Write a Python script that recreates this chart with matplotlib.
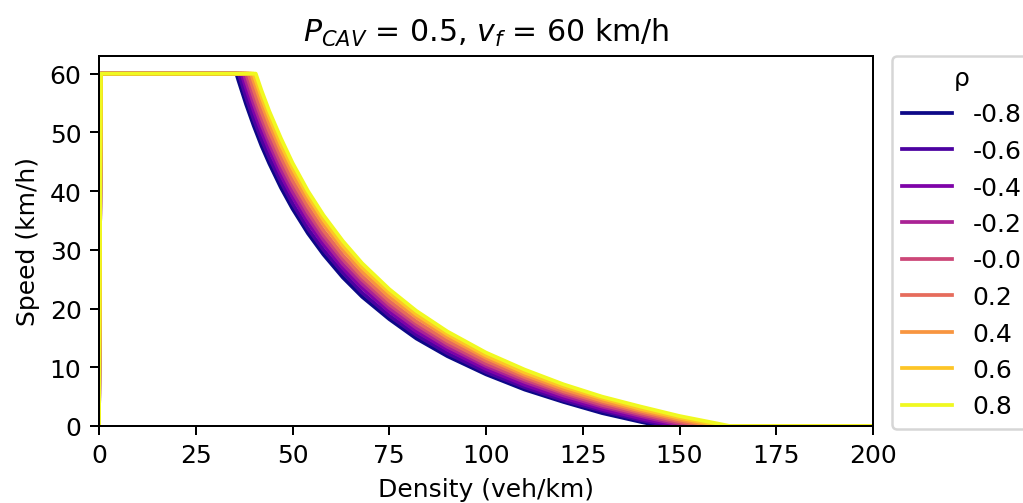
import numpy as np
import matplotlib
matplotlib.use("Agg")
import matplotlib.pyplot as plt

# legend labels for the correlation rho
rho_labels = ["-0.8", "-0.6", "-0.4", "-0.2", "-0.0", "0.2", "0.4", "0.6", "0.8"]
# critical density (end of the 60 km/h plateau) and jam density (speed reaches 0), veh/km
k_crit = [35.5, 36.1, 36.8, 37.4, 38.0, 38.6, 39.3, 39.9, 40.5]
k_jam = [145.0, 147.2, 149.5, 151.8, 154.0, 156.2, 158.5, 160.8, 163.0]
# densities at which the speeds below were read
density = [36, 38, 40, 42, 44, 47, 50, 54, 58, 63, 68, 75, 82, 90, 100, 110, 120, 130, 140, 150, 160]
speed_m08 = [58.9, 54.8, 51.1, 47.7, 44.7, 40.6, 37.0, 32.8, 29.2, 25.3, 22.0, 18.2, 14.9, 11.9, 8.8, 6.2, 4.1, 2.2, 0.7, 0.0, 0.0]
speed_m06 = [60.0, 56.0, 52.2, 48.8, 45.7, 41.6, 37.9, 33.6, 30.0, 26.1, 22.7, 18.8, 15.5, 12.4, 9.2, 6.6, 4.4, 2.6, 1.0, 0.0, 0.0]
speed_m04 = [60.0, 57.5, 53.6, 50.1, 47.0, 42.7, 39.0, 34.6, 30.9, 26.9, 23.5, 19.5, 16.1, 13.0, 9.7, 7.0, 4.8, 2.9, 1.3, 0.0, 0.0]
speed_m02 = [60.0, 58.7, 54.8, 51.3, 48.1, 43.7, 39.9, 35.5, 31.7, 27.6, 24.2, 20.1, 16.7, 13.5, 10.2, 7.5, 5.2, 3.3, 1.7, 0.2, 0.0]
speed_00 = [60.0, 60.0, 56.0, 52.4, 49.1, 44.7, 40.9, 36.4, 32.5, 28.4, 24.9, 20.7, 17.3, 14.0, 10.6, 7.9, 5.6, 3.6, 2.0, 0.5, 0.0]
speed_p02 = [60.0, 60.0, 57.2, 53.5, 50.2, 45.8, 41.8, 37.3, 33.3, 29.1, 25.5, 21.3, 17.8, 14.5, 11.1, 8.3, 5.9, 4.0, 2.3, 0.8, 0.0]
speed_p04 = [60.0, 60.0, 58.6, 54.9, 51.5, 46.9, 42.9, 38.3, 34.3, 30.0, 26.3, 22.0, 18.5, 15.1, 11.6, 8.7, 6.3, 4.3, 2.6, 1.1, 0.0]
speed_p06 = [60.0, 60.0, 59.8, 56.0, 52.6, 47.9, 43.9, 39.2, 35.1, 30.7, 27.0, 22.7, 19.0, 15.6, 12.0, 9.1, 6.7, 4.7, 2.9, 1.4, 0.1]
speed_p08 = [60.0, 60.0, 60.0, 57.1, 53.6, 49.0, 44.8, 40.0, 35.9, 31.5, 27.7, 23.3, 19.6, 16.1, 12.5, 9.6, 7.1, 5.0, 3.3, 1.7, 0.4]
speeds = [speed_m08, speed_m06, speed_m04, speed_m02, speed_00,
          speed_p02, speed_p04, speed_p06, speed_p08]
v_free = 60.0
x_max = 200

fig = plt.figure(figsize=(1023/180, 504/180), dpi=180)
ax = fig.add_axes([99/1023, 77/504, 774/1023, 370/504])
colors = plt.cm.plasma(np.linspace(0, 1, len(rho_labels)))
for lab, kc, kj, sp, c in zip(rho_labels, k_crit, k_jam, speeds, colors):
    xs = [0, 0.5, kc]
    ys = [0, v_free, v_free]
    for d, v in zip(density, sp):
        if kc < d < kj:
            xs.append(d)
            ys.append(v)
    xs += [kj, x_max]
    ys += [0, 0]
    ax.plot(xs, ys, color=c, lw=1.5, label=lab)
ax.set_xlim(0, x_max)
ax.set_ylim(0, 63)
ax.set_xlabel("Density (veh/km)")
ax.set_ylabel("Speed (km/h)")
ax.set_title(r"$P_{CAV}$ = 0.5, $v_f$ = 60 km/h")
ax.legend(title="ρ", loc="upper left", bbox_to_anchor=(1.025, 1.0), borderaxespad=0)
fig.savefig("out.png", dpi=180)
